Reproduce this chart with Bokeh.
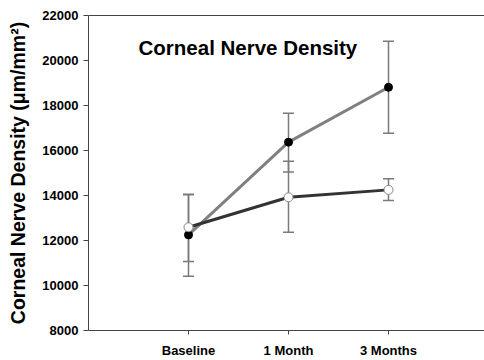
from bokeh.plotting import figure
from bokeh.models import ColumnDataSource, Whisker, TeeHead, FixedTicker, LinearAxis, Label, Range1d
from bokeh.embed import file_html
from bokeh.resources import INLINE

categories = ["Baseline", "1 Month", "3 Months"]
xpos = [1, 2, 3]
# series with filled markers (gray line)
filled_mean = [12250, 16370, 18810]
filled_upper = [14060, 17660, 20860]
filled_lower = [10410, 15040, 16770]
# series with open markers (dark line)
open_mean = [12590, 13920, 14250]
open_upper = [14030, 15520, 14740]
open_lower = [11070, 12370, 13780]
yticks = [8000, 10000, 12000, 14000, 16000, 18000, 20000, 22000]

FONT = "Liberation Sans"
AXC = "#444444"

p = figure(width=484, height=360, output_backend="svg", toolbar_location=None,
           x_range=Range1d(0, 3.96), y_range=Range1d(8000, 22000),
           min_border_left=88, min_border_right=0, min_border_top=15, min_border_bottom=30)
p.outline_line_color = None
p.xgrid.grid_line_color = None
p.ygrid.grid_line_color = None
p.background_fill_color = "white"
p.border_fill_color = "white"

# y axis
p.yaxis.ticker = FixedTicker(ticks=yticks)
p.yaxis.minor_tick_line_color = None
p.yaxis.major_tick_in = 0
p.yaxis.major_tick_out = 5
p.yaxis.major_label_standoff = 5
p.yaxis.axis_line_color = AXC
p.yaxis.major_tick_line_color = AXC
p.yaxis.major_label_text_font = FONT
p.yaxis.major_label_text_font_style = "bold"
p.yaxis.major_label_text_font_size = "13px"
p.yaxis.major_label_text_color = "black"
p.yaxis.axis_label = "Corneal Nerve Density (\u03bcm/mm\u00b2)"
p.yaxis.axis_label_text_font = FONT
p.yaxis.axis_label_text_font_style = "bold"
p.yaxis.axis_label_text_font_size = "19.5px"
p.yaxis.axis_label_text_color = "black"
p.yaxis.axis_label_standoff = 10

# x axis
p.xaxis.ticker = FixedTicker(ticks=xpos)
p.xaxis.major_label_overrides = {x: c for x, c in zip(xpos, categories)}
p.xaxis.minor_tick_line_color = None
p.xaxis.major_tick_in = 0
p.xaxis.major_tick_out = 4
p.xaxis.major_label_standoff = 8
p.xaxis.axis_line_color = AXC
p.xaxis.major_tick_line_color = AXC
p.xaxis.major_label_text_font = FONT
p.xaxis.major_label_text_font_style = "bold"
p.xaxis.major_label_text_font_size = "13px"
p.xaxis.major_label_text_color = "black"

# top border line
top = LinearAxis(axis_line_color=AXC, major_tick_line_color=None, minor_tick_line_color=None,
                 major_label_text_font_size="0px", major_label_standoff=0, ticker=FixedTicker(ticks=[]))
p.add_layout(top, "above")

src_f = ColumnDataSource(dict(x=xpos, y=filled_mean, upper=filled_upper, lower=filled_lower))
src_o = ColumnDataSource(dict(x=xpos, y=open_mean, upper=open_upper, lower=open_lower))

for src in (src_f, src_o):
    w = Whisker(base="x", upper="upper", lower="lower", source=src,
                line_color="#7a7a7a", line_width=1.5, level="underlay",
                upper_head=TeeHead(size=11, line_color="#7a7a7a", line_width=1.5),
                lower_head=TeeHead(size=11, line_color="#7a7a7a", line_width=1.5))
    p.add_layout(w)

p.line("x", "y", source=src_f, line_color="#808080", line_width=3)
p.line("x", "y", source=src_o, line_color="#333333", line_width=3)
p.scatter("x", "y", source=src_f, size=8, fill_color="black", line_color="black")
p.scatter("x", "y", source=src_o, size=9, fill_color="white", line_color="#888888", line_width=1)

title = Label(x=0.5, y=20578, text="Corneal Nerve Density", text_font=FONT,
              text_font_style="bold", text_font_size="20.5px", text_color="black",
              text_baseline="alphabetic", text_align="left")
p.add_layout(title)

open("out.html", "w").write(file_html(p, INLINE))
